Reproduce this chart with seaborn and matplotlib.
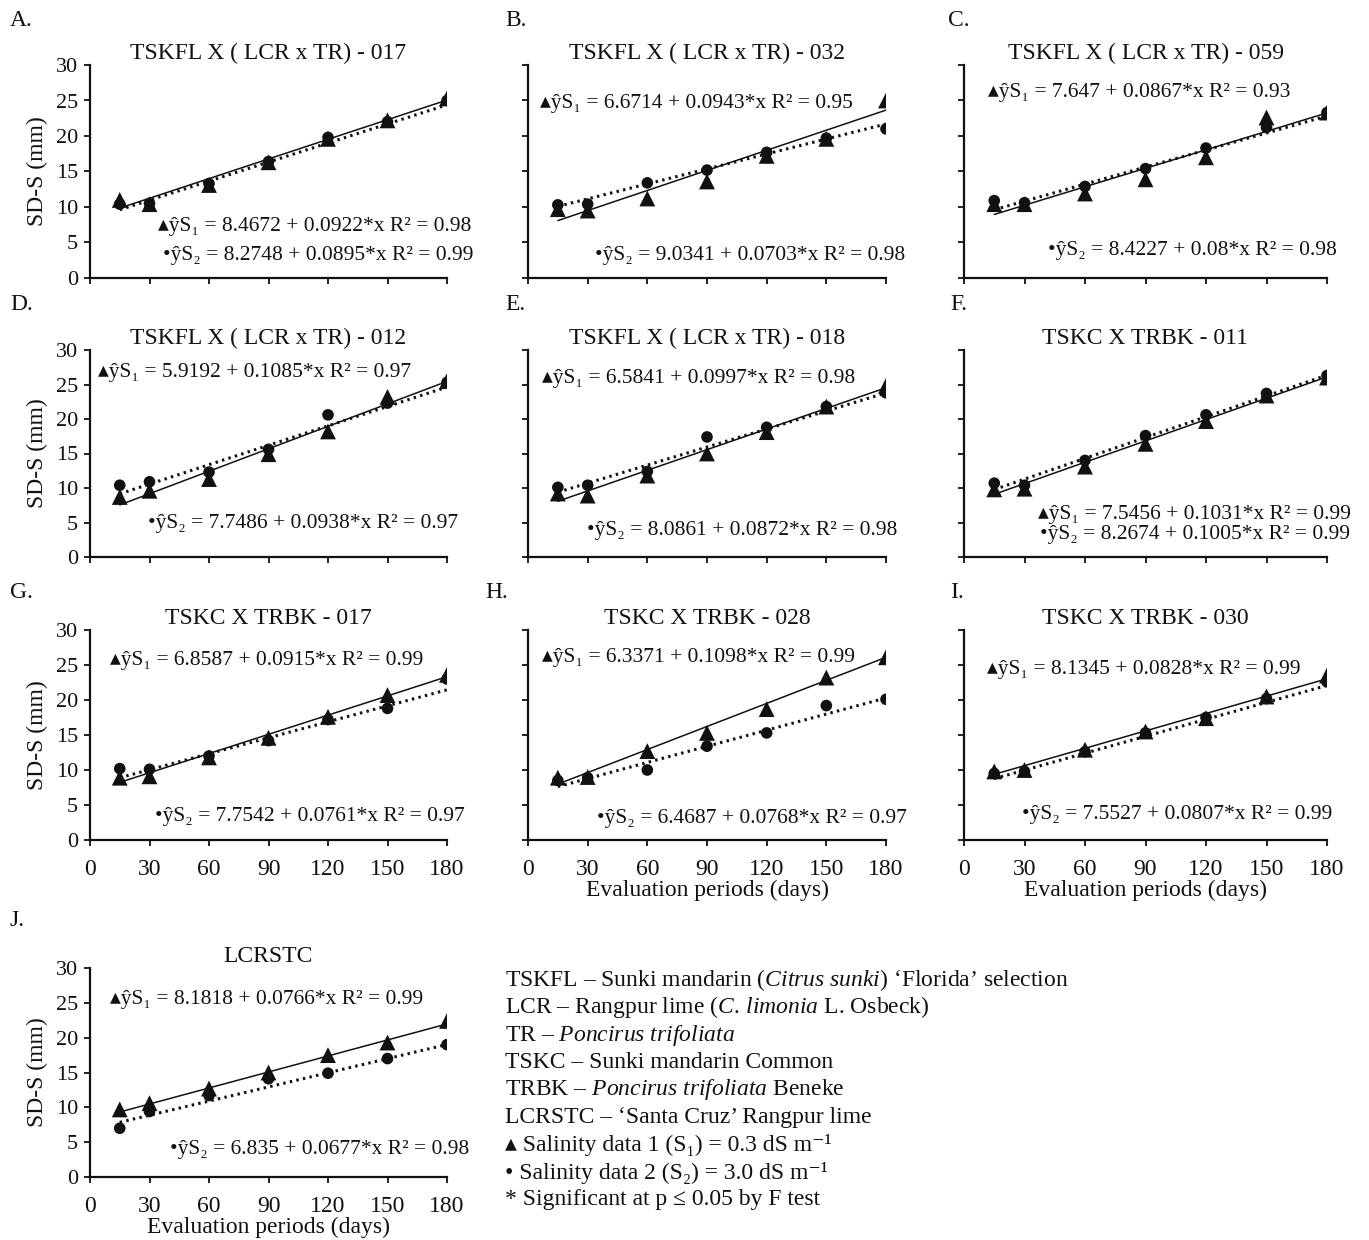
import numpy as np
import pandas as pd
import matplotlib
matplotlib.use("Agg")
import matplotlib.pyplot as plt
import seaborn as sns

# ---------------------------------------------------------------------------
# Data: stem diameter of the scion (SD-S, mm) by evaluation period (days)
# S1 = 0.3 dS m-1, S2 = 3.0 dS m-1
# ---------------------------------------------------------------------------
days = [15, 30, 60, 90, 120, 150, 180]

panel_letters = ["A.", "B.", "C.", "D.", "E.", "F.", "G.", "H.", "I.", "J."]
panel_titles = [
    "TSKFL X ( LCR x TR) - 017",
    "TSKFL X ( LCR x TR) - 032",
    "TSKFL X ( LCR x TR) - 059",
    "TSKFL X ( LCR x TR) - 012",
    "TSKFL X ( LCR x TR) - 018",
    "TSKC X TRBK - 011",
    "TSKC X TRBK - 017",
    "TSKC X TRBK - 028",
    "TSKC X TRBK - 030",
    "LCRSTC",
]

a_s1 = [11.0, 10.4, 13.1, 16.3, 19.6, 22.2, 25.3]
a_s2 = [10.4, 10.5, 13.3, 16.4, 19.8, 22.0, 25.0]
b_s1 = [9.7, 9.5, 11.2, 13.6, 17.2, 19.6, 25.0]
b_s2 = [10.3, 10.4, 13.4, 15.2, 17.7, 19.7, 21.0]
c_s1 = [10.4, 10.4, 11.9, 13.9, 17.0, 22.6, 23.3]
c_s2 = [10.9, 10.6, 12.9, 15.4, 18.3, 21.2, 23.3]
d_s1 = [8.7, 9.6, 11.3, 14.9, 18.2, 23.2, 25.5]
d_s2 = [10.4, 10.9, 12.3, 15.6, 20.6, 22.3, 25.3]
e_s1 = [9.2, 8.9, 11.8, 15.0, 18.1, 21.8, 24.8]
e_s2 = [10.1, 10.4, 12.4, 17.4, 18.8, 21.8, 23.8]
f_s1 = [9.8, 9.9, 13.1, 16.4, 19.7, 23.4, 26.0]
f_s2 = [10.7, 10.4, 14.0, 17.6, 20.6, 23.7, 26.3]
g_s1 = [8.9, 9.1, 11.8, 14.6, 17.6, 20.7, 23.6]
g_s2 = [10.2, 10.1, 12.0, 14.2, 17.2, 18.8, 23.0]
h_s1 = [8.9, 9.0, 12.7, 15.3, 18.7, 23.2, 26.1]
h_s2 = [8.5, 8.9, 10.0, 13.4, 15.3, 19.2, 20.1]
i_s1 = [9.8, 10.0, 12.9, 15.5, 17.4, 20.5, 23.5]
i_s2 = [9.5, 9.8, 12.6, 15.3, 17.5, 20.2, 22.6]
j_s1 = [9.7, 10.6, 12.7, 15.0, 17.5, 19.3, 22.4]
j_s2 = [7.0, 9.4, 11.7, 14.1, 14.9, 17.0, 19.0]

series_s1 = [a_s1, b_s1, c_s1, d_s1, e_s1, f_s1, g_s1, h_s1, i_s1, j_s1]
series_s2 = [a_s2, b_s2, c_s2, d_s2, e_s2, f_s2, g_s2, h_s2, i_s2, j_s2]

# fitted linear models  y = b0 + b1 * x
s1_intercept = [8.4672, 6.6714, 7.647, 5.9192, 6.5841, 7.5456, 6.8587, 6.3371, 8.1345, 8.1818]
s1_slope = [0.0922, 0.0943, 0.0867, 0.1085, 0.0997, 0.1031, 0.0915, 0.1098, 0.0828, 0.0766]
s1_r2 = [0.98, 0.95, 0.93, 0.97, 0.98, 0.99, 0.99, 0.99, 0.99, 0.99]
s2_intercept = [8.2748, 9.0341, 8.4227, 7.7486, 8.0861, 8.2674, 7.7542, 6.4687, 7.5527, 6.835]
s2_slope = [0.0895, 0.0703, 0.08, 0.0938, 0.0872, 0.1005, 0.0761, 0.0768, 0.0807, 0.0677]
s2_r2 = [0.99, 0.98, 0.98, 0.97, 0.98, 0.99, 0.97, 0.97, 0.99, 0.98]

x_ticks = [0, 30, 60, 90, 120, 150, 180]
y_ticks = [0, 5, 10, 15, 20, 25, 30]

key_lines = [
    r"TSKFL – Sunki mandarin ($\mathit{Citrus\ sunki}$) ‘Florida’ selection",
    r"LCR – Rangpur lime ($\mathit{C.\,limonia}$ L. Osbeck)",
    r"TR – $\mathit{Poncirus\ trifoliata}$",
    r"TSKC – Sunki mandarin Common",
    r"TRBK – $\mathit{Poncirus\ trifoliata}$ Beneke",
    r"LCRSTC – ‘Santa Cruz’ Rangpur lime",
    "\u25b4 Salinity data 1 (S\u2081) = 0.3 dS m\u207b\u00b9",
    "\u2022 Salinity data 2 (S\u2082) = 3.0 dS m\u207b\u00b9",
    "* Significant at p \u2264 0.05 by F test",
]

# ---------------------------------------------------------------------------
# Layout (pixels on a 1369 x 1240 canvas)
# ---------------------------------------------------------------------------
W, H = 1369, 1240
col_left = [90, 528, 964]
col_right = [447, 886, 1327]
row_top = [65, 350, 630, 968]
row_bottom = [278, 557, 840, 1177]
letter_pos = [(10, 20), (505, 20), (948, 20), (10, 305), (505, 305), (950, 305),
              (10, 592), (485, 592), (950, 592), (10, 920)]
# equation anchors in data coordinates: (x1, y1, x2, y2)
eq_pos = [(34.3, 7.2, 36.8, 3.2), (6.0, 24.6, 33.7, 3.2), (11.9, 26.1, 41.7, 3.9),
          (4.0, 26.8, 29.2, 4.8), (7.0, 25.8, 29.7, 3.9), (36.7, 6.2, 37.7, 3.2),
          (10.1, 25.7, 32.8, 3.4), (7.0, 26.1, 34.7, 3.1), (11.4, 24.3, 28.8, 3.7),
          (10.1, 25.5, 40.3, 4.0)]

sns.set_theme(style="ticks")
plt.rcParams["font.family"] = ["Liberation Serif", "DejaVu Sans"]
plt.rcParams["mathtext.fontset"] = "custom"
plt.rcParams["mathtext.rm"] = "Liberation Serif"
plt.rcParams["mathtext.it"] = "Liberation Serif:italic"
plt.rcParams["text.color"] = "#111111"
plt.rcParams["axes.labelcolor"] = "#111111"
plt.rcParams["xtick.color"] = "#111111"
plt.rcParams["ytick.color"] = "#111111"

fig = plt.figure(figsize=(W / 100, H / 100), dpi=100)
fig.patch.set_facecolor("white")

FS_TICK = 16
FS_EQ = 15.5
FS_TITLE = 17
FS_KEY = 17

for k in range(10):
    r, c = divmod(k, 3)
    l, rt = col_left[c], col_right[c]
    t, b = row_top[r], row_bottom[r]
    ax = fig.add_axes([l / W, 1 - b / H, (rt - l) / W, (b - t) / H])
    ax.set_facecolor("white")

    df = pd.DataFrame({
        "days": days * 2,
        "sds": series_s1[k] + series_s2[k],
        "salinity": ["S1"] * 7 + ["S2"] * 7,
    })

    # fitted lines
    x_fit = np.array([days[0], days[-1]], dtype=float)
    fit1 = pd.DataFrame({"days": x_fit, "sds": s1_intercept[k] + s1_slope[k] * x_fit})
    fit2 = pd.DataFrame({"days": x_fit, "sds": s2_intercept[k] + s2_slope[k] * x_fit})
    sns.lineplot(data=fit1, x="days", y="sds", ax=ax, color="#111111",
                 linewidth=1.1, linestyle="-", zorder=2)
    sns.lineplot(data=fit2, x="days", y="sds", ax=ax, color="#111111",
                 linewidth=2.2, linestyle=(0, (0.8, 1.4)), zorder=2)

    # observed points
    sns.scatterplot(data=df[df.salinity == "S2"], x="days", y="sds", ax=ax,
                    marker="o", s=70, color="#111111", edgecolor="none",
                    zorder=3, legend=False)
    sns.scatterplot(data=df[df.salinity == "S1"], x="days", y="sds", ax=ax,
                    marker="^", s=130, color="#111111", edgecolor="none",
                    zorder=4, legend=False)

    ax.set_xlim(0, 180)
    ax.set_ylim(0, 30)
    ax.set_xticks(x_ticks)
    ax.set_yticks(y_ticks)
    ax.tick_params(axis="both", direction="out", length=4.5, width=1.3,
                   labelsize=FS_TICK, pad=4)
    for side in ("top", "right"):
        ax.spines[side].set_visible(False)
    for side in ("left", "bottom"):
        ax.spines[side].set_linewidth(1.6)
        ax.spines[side].set_color("#111111")

    if c == 0:
        ax.set_ylabel("SD-S (mm)", fontsize=FS_TICK + 1, labelpad=6)
    else:
        ax.set_ylabel("")
        ax.set_yticklabels([])
    if r >= 2:
        ax.tick_params(axis="x", labelsize=FS_TICK + 1, pad=9)
    else:
        ax.set_xticklabels([])
    if r >= 2 and k != 6:
        ax.set_xlabel("Evaluation periods (days)", fontsize=FS_TICK + 1, labelpad=0)
    else:
        ax.set_xlabel("")

    ax.set_title(panel_titles[k], fontsize=FS_TITLE, pad=4)

    x1, y1, x2, y2 = eq_pos[k]
    eq1 = "\u25b4\u0177S\u2081 = %s + %s*x R\u00b2 = %.2f" % (s1_intercept[k], s1_slope[k], s1_r2[k])
    eq2 = "\u2022\u0177S\u2082 = %s + %s*x R\u00b2 = %.2f" % (s2_intercept[k], s2_slope[k], s2_r2[k])
    ax.text(x1, y1, eq1, fontsize=FS_EQ, ha="left", va="center", clip_on=False)
    ax.text(x2, y2, eq2, fontsize=FS_EQ, ha="left", va="center", clip_on=False)

    lx, ly = letter_pos[k]
    fig.text(lx / W, 1 - ly / H, panel_letters[k], fontsize=FS_TITLE,
             ha="left", va="center")

# abbreviation key
for i, line in enumerate(key_lines):
    fig.text(505 / W, 1 - (980 + i * 27.5) / H, line, fontsize=FS_KEY,
             ha="left", va="center")

fig.savefig("out.png", dpi=100, facecolor="white")
